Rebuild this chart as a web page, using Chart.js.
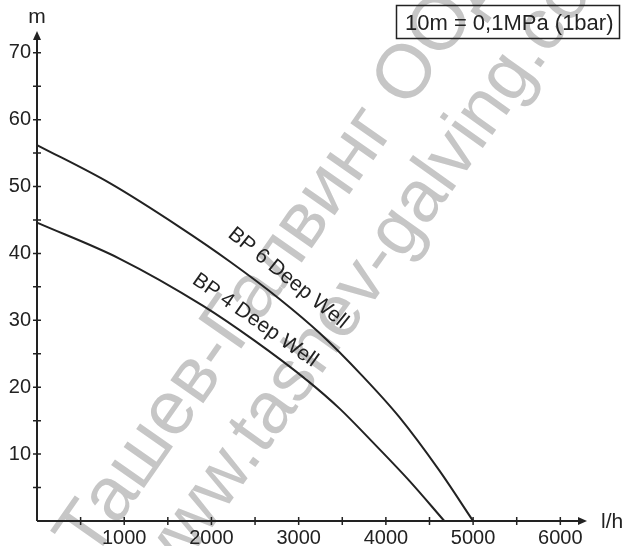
<!DOCTYPE html>
<html>
<head>
<meta charset="utf-8">
<script src="https://cdn.jsdelivr.net/npm/chart.js@4"></script>
<style>
  html, body { margin: 0; padding: 0; background: #fff; }
  #chart { display: block; }
</style>
</head>
<body>
<canvas id="chart" width="628" height="546"></canvas>
<script>
// pump curves, flow in l/h, head in m
const flow6 = [0, 835, 1640, 2210, 2780, 3240, 3730, 4150, 4610, 5000];
const head6 = [56.2, 50.5, 43.9, 38.8, 33.2, 28.1, 21.7, 15.6, 7.6, 0];
const flow4 = [0, 950, 1900, 2490, 3090, 3470, 3840, 4270, 4670];
const head4 = [44.6, 39.2, 32.2, 27.0, 21.1, 16.8, 11.9, 6.0, 0];

const xTickLabels = [1000, 2000, 3000, 4000, 5000, 6000];
const yTickLabels = [10, 20, 30, 40, 50, 60, 70];

const seriesNames = ['BP 6 Deep Well', 'BP 4 Deep Well'];
const xTitle = 'l/h';
const yTitle = 'm';
const noteText = '10m = 0,1MPa (1bar)';
const watermarks = ['Ташев-Галвинг ООД', 'www.tashev-galving.com'];

const xMax = 6260;
const yMax = 73.1;
const ink = '#222';
const fontFamily = '"Liberation Sans", Arial, sans-serif';

const toPoints = (xs, ys) => xs.map((x, i) => ({ x: x, y: ys[i] }));

const pumpPlugin = {
    id: 'pumpDecor',
    beforeDraw(chart) {
        const ctx = chart.ctx;
        ctx.save();
        ctx.fillStyle = '#fff';
        ctx.fillRect(0, 0, chart.width, chart.height);
        // faint watermark behind everything
        ctx.fillStyle = '#c6c6c6';
        ctx.textBaseline = 'alphabetic';
        ctx.textAlign = 'left';
        ctx.save();
        ctx.font = '76px ' + fontFamily;
        ctx.translate(92, 562);
        ctx.rotate(-55 * Math.PI / 180);
        ctx.fillText(watermarks[0], 0, 0);
        ctx.restore();
        ctx.save();
        ctx.font = '73px ' + fontFamily;
        ctx.translate(162, 598);
        ctx.rotate(-54.5 * Math.PI / 180);
        ctx.fillText(watermarks[1], 0, 0);
        ctx.restore();
        ctx.restore();
    },
    afterDatasetsDraw(chart) {
        const ctx = chart.ctx;
        const xs = chart.scales.x;
        const ys = chart.scales.y;
        const x0 = xs.getPixelForValue(0);
        const y0 = ys.getPixelForValue(0);
        const xEnd = xs.getPixelForValue(xMax);
        const yEnd = ys.getPixelForValue(yMax);

        ctx.save();
        ctx.strokeStyle = ink;
        ctx.fillStyle = ink;
        ctx.lineWidth = 2;

        // axes
        ctx.beginPath();
        ctx.moveTo(x0, y0);
        ctx.lineTo(xEnd, y0);
        ctx.moveTo(x0, y0);
        ctx.lineTo(x0, yEnd + 4);
        ctx.stroke();

        // arrow heads
        ctx.beginPath();
        ctx.moveTo(xEnd + 4, y0);
        ctx.lineTo(xEnd - 5, y0 - 4);
        ctx.lineTo(xEnd - 5, y0 + 4);
        ctx.closePath();
        ctx.fill();
        ctx.beginPath();
        ctx.moveTo(x0, yEnd - 1);
        ctx.lineTo(x0 - 4, yEnd + 8);
        ctx.lineTo(x0 + 4, yEnd + 8);
        ctx.closePath();
        ctx.fill();

        // tick marks crossing the axes
        ctx.lineWidth = 1.5;
        ctx.beginPath();
        for (let v = 500; v <= 6000; v += 500) {
            const px = xs.getPixelForValue(v);
            ctx.moveTo(px, y0 - 4);
            ctx.lineTo(px, y0 + 4);
        }
        for (let v = 5; v <= 70; v += 5) {
            const py = ys.getPixelForValue(v);
            ctx.moveTo(x0 - 4, py);
            ctx.lineTo(x0 + 4, py);
        }
        ctx.stroke();

        // axis titles
        ctx.font = '21px ' + fontFamily;
        ctx.textBaseline = 'alphabetic';
        ctx.textAlign = 'center';
        ctx.fillText(yTitle, x0, 23);
        ctx.textAlign = 'left';
        ctx.fillText(xTitle, 601, 528);

        // unit note box
        ctx.lineWidth = 1.5;
        ctx.strokeRect(396.5, 5.5, 223, 33);
        ctx.font = '22px ' + fontFamily;
        ctx.fillText(noteText, 405, 30);

        // curve labels
        const labels = [
            { text: seriesNames[0], x: 2880, y: 36.3, angle: 39 },
            { text: seriesNames[1], x: 2500, y: 30.0, angle: 35 }
        ];
        ctx.font = '21px ' + fontFamily;
        ctx.textAlign = 'center';
        ctx.textBaseline = 'middle';
        labels.forEach(l => {
            ctx.save();
            ctx.translate(xs.getPixelForValue(l.x), ys.getPixelForValue(l.y));
            ctx.rotate(l.angle * Math.PI / 180);
            ctx.fillText(l.text, 0, 0);
            ctx.restore();
        });
        ctx.restore();
    }
};

const ctx = document.getElementById('chart').getContext('2d');
const chart = new Chart(ctx, {
    type: 'line',
    data: {
        datasets: [
            {
                label: seriesNames[0],
                data: toPoints(flow6, head6),
                borderColor: ink,
                borderWidth: 2,
                pointRadius: 0,
                cubicInterpolationMode: 'monotone',
                clip: false
            },
            {
                label: seriesNames[1],
                data: toPoints(flow4, head4),
                borderColor: ink,
                borderWidth: 2,
                pointRadius: 0,
                cubicInterpolationMode: 'monotone',
                clip: false
            }
        ]
    },
    options: {
        responsive: false,
        animation: false,
        layout: { padding: { top: 32, right: 45, left: 0, bottom: 0 } },
        plugins: {
            legend: { display: false },
            tooltip: { enabled: false }
        },
        scales: {
            x: {
                type: 'linear',
                min: 0,
                max: xMax,
                grid: { display: false, drawTicks: false },
                border: { display: false },
                afterBuildTicks: scale => { scale.ticks = xTickLabels.map(v => ({ value: v })); },
                afterFit: scale => { scale.height = 25; },
                ticks: {
                    autoSkip: false,
                    maxRotation: 0,
                    padding: 5,
                    color: ink,
                    font: { family: fontFamily, size: 20 },
                    callback: v => String(v)
                }
            },
            y: {
                type: 'linear',
                min: 0,
                max: yMax,
                grid: { display: false, drawTicks: false },
                border: { display: false },
                afterBuildTicks: scale => { scale.ticks = yTickLabels.map(v => ({ value: v })); },
                afterFit: scale => { scale.width = 37; },
                ticks: {
                    autoSkip: false,
                    padding: 6,
                    color: ink,
                    font: { family: fontFamily, size: 20 },
                    callback: v => String(v)
                }
            }
        }
    },
    plugins: [pumpPlugin]
});
</script>
</body>
</html>
